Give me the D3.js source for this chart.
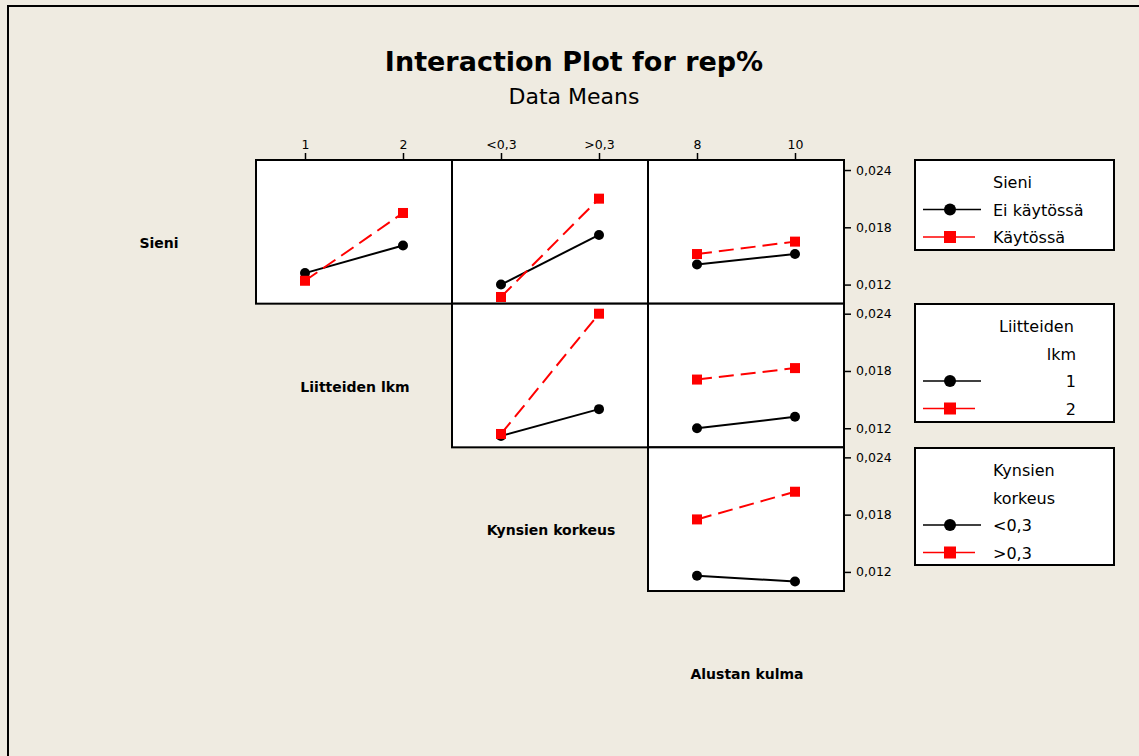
<!DOCTYPE html>
<html>
<head>
<meta charset="utf-8">
<script src="https://cdn.jsdelivr.net/npm/d3@7"></script>
<style>
  body { margin: 0; background: #efebe1; }
  svg { display: block; }
  text { font-family: "DejaVu Sans", sans-serif; fill: #000; }
</style>
</head>
<body>
<svg id="chart" width="1139" height="756"></svg>
<script>
// factors and their levels
const factorNames = ["Sieni", "Liitteiden lkm", "Kynsien korkeus", "Alustan kulma"];
const sieniLevels = ["Ei käytössä", "Käytössä"];
const liitteetLevels = ["1", "2"];
const kynsiLevels = ["<0,3", ">0,3"];
const kulmaLevels = ["8", "10"];
const yTicks = [0.012, 0.018, 0.024];

// means: [trace level][x level]
const sieniByLiitteet = [[0.0132, 0.0161], [0.0124, 0.0195]];
const sieniByKynsi = [[0.0120, 0.0172], [0.0107, 0.0210]];
const sieniByKulma = [[0.0141, 0.0152], [0.0152, 0.0165]];
const liitteetByKynsi = [[0.0112, 0.0140], [0.0114, 0.0240]];
const liitteetByKulma = [[0.0120, 0.0132], [0.0171, 0.0183]];
const kynsiByKulma = [[0.0116, 0.0110], [0.0175, 0.0204]];

const levels = [sieniLevels, liitteetLevels, kynsiLevels, kulmaLevels];
const panels = [
    {row: 0, col: 1, values: sieniByLiitteet},
    {row: 0, col: 2, values: sieniByKynsi},
    {row: 0, col: 3, values: sieniByKulma},
    {row: 1, col: 2, values: liitteetByKynsi},
    {row: 1, col: 3, values: liitteetByKulma},
    {row: 2, col: 3, values: kynsiByKulma}
];

const svg = d3.select("#chart");
const fmt = d3.formatLocale({decimal: ",", thousands: " ", grouping: [3], currency: ["", ""]}).format(".3f");

// outer frame
svg.append("rect")
    .attr("x", 8).attr("y", 6)
    .attr("width", 1200).attr("height", 800)
    .attr("fill", "#efebe1")
    .attr("stroke", "#000").attr("stroke-width", 2);

svg.append("text")
    .attr("x", 574).attr("y", 71)
    .attr("text-anchor", "middle")
    .style("font-size", "27px").style("font-weight", "bold")
    .text("Interaction Plot for rep%");
svg.append("text")
    .attr("x", 574).attr("y", 104)
    .attr("text-anchor", "middle")
    .style("font-size", "22px")
    .text("Data Means");

// grid layout: 4x4, factor names on the diagonal
const gridLeft = 60, gridTop = 160;
const cellW = 196, cellH = 143.67;
const colors = ["#000", "#ff0000"];

factorNames.forEach((name, i) => {
    svg.append("text")
        .attr("x", gridLeft + cellW * i + cellW / 2 + 1)
        .attr("y", gridTop + cellH * i + cellH / 2 + 16)
        .attr("text-anchor", "middle")
        .style("font-size", "14px").style("font-weight", "bold")
        .text(name);
});

panels.forEach(p => {
    const x0 = gridLeft + cellW * p.col;
    const y0 = gridTop + cellH * p.row;
    const g = svg.append("g").attr("transform", `translate(${x0},${y0})`);

    const x = d3.scalePoint().domain(levels[p.col]).range([0, cellW]).padding(0.5);
    const y = d3.scaleLinear().domain([0.0100, 0.02505]).range([cellH, 0]);

    g.append("rect")
        .attr("width", cellW).attr("height", cellH)
        .attr("fill", "#fff");

    // top axis for first row
    if (p.row === 0) {
        const ax = g.append("g").call(d3.axisTop(x).tickSize(7).tickPadding(4));
        ax.select(".domain").remove();
        ax.selectAll("line").attr("stroke", "#000").attr("stroke-width", 1.5);
        ax.selectAll("text").style("font-size", "12.5px").style("font-family", "DejaVu Sans");
    }
    // right axis for last column
    if (p.col === 3) {
        const ay = g.append("g").attr("transform", `translate(${cellW},0)`)
            .call(d3.axisRight(y).tickValues(yTicks).tickFormat(fmt).tickSize(7).tickPadding(5));
        ay.select(".domain").remove();
        ay.selectAll("line").attr("stroke", "#000").attr("stroke-width", 1.5);
        ay.selectAll("text").style("font-size", "12.5px").style("font-family", "DejaVu Sans");
    }

    const line = d3.line().x((d, i) => x(levels[p.col][i])).y(d => y(d));
    p.values.forEach((vals, k) => {
        g.append("path")
            .attr("d", line(vals))
            .attr("fill", "none")
            .attr("stroke", colors[k])
            .attr("stroke-width", 2)
            .attr("stroke-dasharray", k === 1 ? "15,7" : null);
        vals.forEach((v, i) => {
            if (k === 0) {
                g.append("circle")
                    .attr("cx", x(levels[p.col][i])).attr("cy", y(v))
                    .attr("r", 5).attr("fill", colors[k]);
            } else {
                g.append("rect")
                    .attr("x", x(levels[p.col][i]) - 5).attr("y", y(v) - 5)
                    .attr("width", 10).attr("height", 10)
                    .attr("fill", colors[k]);
            }
        });
    });

    g.append("rect")
        .attr("width", cellW).attr("height", cellH)
        .attr("fill", "none")
        .attr("stroke", "#000").attr("stroke-width", 2);
});

// legends, one per trace factor
const legends = [
    {top: 160, height: 90, title: ["Sieni"], titleAnchor: "start", items: sieniLevels, itemAnchor: "start"},
    {top: 304, height: 118, title: ["Liitteiden", "lkm"], titleAnchor: "end", items: liitteetLevels, itemAnchor: "end"},
    {top: 448, height: 117, title: ["Kynsien", "korkeus"], titleAnchor: "start", items: kynsiLevels, itemAnchor: "start"}
];
const legLeft = 915, legW = 199;

legends.forEach(L => {
    const g = svg.append("g").attr("transform", `translate(${legLeft},${L.top})`);
    g.append("rect")
        .attr("width", legW).attr("height", L.height)
        .attr("fill", "#fff")
        .attr("stroke", "#000").attr("stroke-width", 2);
    const rowH = 27.5;
    const lines = L.title.concat(L.items);
    lines.forEach((t, i) => {
        const cy = 22 + rowH * i;
        const isItem = i >= L.title.length;
        let tx = 78;
        let anchor = "start";
        if (!isItem && L.titleAnchor === "end") {
            tx = i === 0 ? 84 : 161;
            anchor = i === 0 ? "start" : "end";
        }
        if (isItem && L.itemAnchor === "end") { tx = 161; anchor = "end"; }
        g.append("text")
            .attr("x", tx).attr("y", cy + 6)
            .attr("text-anchor", anchor)
            .style("font-size", "16px")
            .text(t);
        if (isItem) {
            const k = i - L.title.length;
            g.append("line")
                .attr("x1", 8).attr("x2", k === 0 ? 66 : 60)
                .attr("y1", cy).attr("y2", cy)
                .attr("stroke", colors[k]).attr("stroke-width", 1.5);
            if (k === 0) {
                g.append("circle").attr("cx", 35).attr("cy", cy).attr("r", 6).attr("fill", colors[k]);
            } else {
                g.append("rect").attr("x", 29).attr("y", cy - 6).attr("width", 12).attr("height", 12).attr("fill", colors[k]);
            }
        }
    });
});
</script>
</body>
</html>
